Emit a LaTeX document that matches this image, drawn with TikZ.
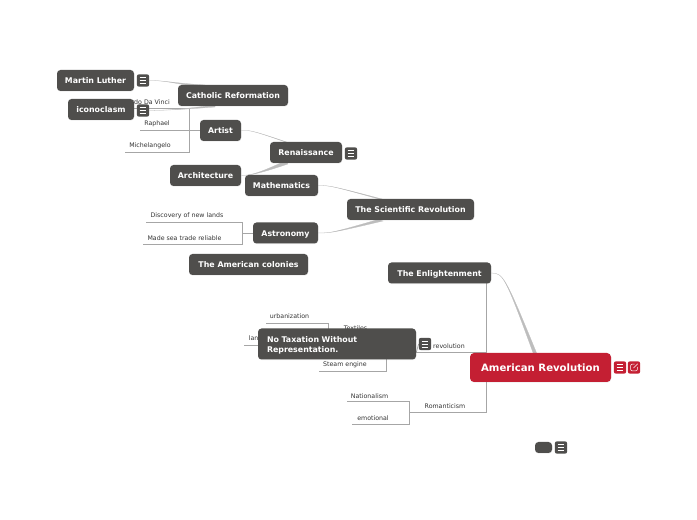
\documentclass[tikz,border=0pt]{standalone}
\usepackage{fontspec}
\setmainfont{DejaVu Sans}
\usetikzlibrary{backgrounds,calc,shadows}
\definecolor{nodegray}{HTML}{4F4E4C}
\definecolor{nodered}{HTML}{C41F33}
\definecolor{branchgray}{HTML}{BDBDBD}
\definecolor{leafline}{HTML}{A6A6A6}
\definecolor{leaftext}{HTML}{333333}
\tikzset{
  wh/.style 2 args={minimum width=#1*0.75pt,minimum height=#2*0.75pt},
  topic/.style={fill=nodegray,rounded corners=2.6pt,text=white,inner sep=0pt,font=\fontsize{5.9}{7.9}\selectfont\bfseries,align=center,
    drop shadow={opacity=0.15,shadow xshift=0.2pt,shadow yshift=-0.5pt}},
  oneline/.style={text height=5.2pt,text depth=0pt},
  leaf/.style={text=leaftext,inner sep=0pt,font=\fontsize{4.7}{6}\selectfont},
  leafrule/.style={draw=leafline,line width=0.55pt},
  branch/.style={fill=branchgray,draw=branchgray,line width=0.2pt},
  iconbox/.style={fill=#1,rounded corners=1.5pt,minimum size=9.2pt,inner sep=0pt,
    path picture={
      \draw[white,line width=0.4pt]
        ($(path picture bounding box.center)+(-2.6pt,2.1pt)$) -- +(5.2pt,0)
        ($(path picture bounding box.center)+(-2.6pt,0pt)$) -- +(5.2pt,0)
        ($(path picture bounding box.center)+(-2.6pt,-2.1pt)$) -- +(5.2pt,0);
    }},
  openbox/.style={fill=nodered,rounded corners=1.5pt,minimum size=9.2pt,inner sep=0pt,
    path picture={
      \draw[white,line width=0.4pt]
        ($(path picture bounding box.center)+(0.4pt,2.6pt)$) -- +(-3pt,0) -- +(-3pt,-5.2pt) -- +(2.2pt,-5.2pt) -- +(2.2pt,-2.2pt);
      \draw[white,line width=0.4pt]
        ($(path picture bounding box.center)+(-0.4pt,-0.4pt)$) -- +(3.2pt,3.2pt);
    }},
}
\newcommand{\taperbranch}[5]{%
  \fill[branch] (#1) .. controls (#2) and (#3) .. (#4) -- (#5) .. controls (#3) and (#2) .. (#1);}
\begin{document}
\begin{tikzpicture}[x=0.75pt,y=-0.75pt]
\useasboundingbox (0,0) rectangle (697,520);

% topics
\node[topic,oneline,wh={77}{21}] (luther) at (95.5,80.5) {Martin Luther};
\node[topic,oneline,wh={110}{21}] (catholic) at (233,95.5) {Catholic Reformation};
\node[topic,oneline,wh={66}{21}] (icono) at (101,109.5) {iconoclasm};
\node[topic,oneline,wh={41}{21}] (artist) at (220.5,130.5) {Artist};
\node[topic,oneline,wh={72}{21}] (renaissance) at (306,152.5) {Renaissance};
\node[topic,oneline,wh={71}{21}] (architecture) at (205.5,175.5) {Architecture};
\node[topic,oneline,wh={73}{21}] (mathematics) at (281.5,185.5) {Mathematics};
\node[topic,oneline,wh={127}{21}] (scientific) at (410.5,209.5) {The Scientific Revolution};
\node[topic,oneline,wh={65}{21}] (astronomy) at (285.5,233) {Astronomy};
\node[topic,oneline,wh={119}{21}] (colonies) at (248.5,264.5) {The American colonies};
\node[topic,oneline,wh={103}{21}] (enlight) at (439.5,273) {The Enlightenment};
\node[topic,wh={158}{31},align=left,text width=140*0.75pt] (taxation) at (337,344) {\rule{0pt}{6.8pt}No Taxation Without\\Representation.};
\node[topic,wh={141}{29},fill=nodered,rounded corners=3pt,font=\fontsize{7.6}{10}\selectfont\bfseries,text height=5.6pt,text depth=0pt] (american) at (540.5,367.5) {American Revolution};
\node[topic,wh={17}{11}] (blank) at (543.5,447.5) {};

% icons
\node[iconbox=nodegray] (iconA) at (143,80.5) {};
\node[iconbox=nodegray] (iconB) at (143,110.5) {};
\node[iconbox=nodegray] (iconC) at (351,153.5) {};
\node[iconbox=nodegray] (iconD) at (425,344) {};
\node[iconbox=nodered] (iconE) at (620,367.5) {};
\node[openbox] (iconF) at (634,367.5) {};
\node[iconbox=nodegray] (iconG) at (561,447.5) {};

\begin{pgfonlayer}{background}
% leaf labels
\node[leaf,anchor=east] (leo) at (170,102) {Leonardo Da Vinci};
\node[leaf] (raphael) at (157,124) {Raphael};
\node[leaf] (michel) at (150,146) {Michelangelo};
\node[leaf] (discovery) at (187,216) {Discovery of new lands};
\node[leaf] (seatrade) at (184.5,238) {Made sea trade reliable};
\node[leaf] (urban) at (289.5,316) {urbanization};
\node[leaf] (textiles) at (355.5,328) {Textiles};
\node[leaf,anchor=west] (lan) at (248.5,338) {lan};
\node[leaf] (steam) at (345,365) {Steam engine};
\node[leaf] (revolution) at (449,346) {revolution};
\node[leaf] (romanticism) at (445,406) {Romanticism};
\node[leaf] (nationalism) at (369.5,396) {Nationalism};
\node[leaf] (emotional) at (373,418) {emotional};

% free ends of the leaf rules
\coordinate (leoL) at (113,108);
\coordinate (raphL) at (140,130);
\coordinate (michL) at (125,152);
\coordinate (artB) at (189,130);
\coordinate (discL) at (146,222);
\coordinate (seaL) at (143,244);
\coordinate (astB) at (242,233);
\coordinate (urbL) at (266,323);
\coordinate (lanL) at (244,345);
\coordinate (steamL) at (319,371.5);
\coordinate (natL) at (347,401.5);
\coordinate (emoL) at (352,424);
\coordinate (romB) at (409,412.5);
\coordinate (entB) at (486.5,283);
\coordinate (revR) at (486.5,352.5);
\coordinate (romR) at (486.5,412.5);

% leaf rules
\draw[leafrule] (leoL) -- (leoL -| artB) -- (michL -| artB) -- (michL);
\draw[leafrule] (raphL) -- (artist.west |- raphL);
\draw[leafrule] (discL) -- (discL -| astB) -- (seaL -| astB) -- (seaL);
\draw[leafrule] (astB) -- (astronomy.west |- astB);
\draw[leafrule] (urbL) -- (328,323) -- (328,335);
\draw[leafrule] (lanL) -- (taxation.west |- lanL);
\draw[leafrule] (steamL) -- (386,371.5) -- (386,355);
\draw[leafrule] (natL) -- (natL -| romB) -- (emoL -| romB) -- (emoL);
\draw[leafrule] (romB) -- (romR);
\draw[leafrule,line width=0.9pt] (entB) -- (romR);
\draw[leafrule] (revR) -- (taxation.east |- revR) -- (iconD.west);

% tapered branches
\taperbranch{iconA.east}{165,80.5}{172,83}{205,85}{205,88}
\taperbranch{iconB.east}{170,110}{175,110}{215,105}{215,107}
\taperbranch{artist.east}{250,130}{254,131}{288,142.5}{291,144}
\taperbranch{architecture.east}{250,175}{255,175}{285,161}{288,164}
\taperbranch{mathematics.east}{330,185.5}{332,186}{382,199}{386,201}
\taperbranch{astronomy.east}{330,233}{332,233}{378,219.5}{383,221}
\taperbranch{enlight.east}{503,273}{505,276}{533.5,354}{537,354}
\end{pgfonlayer}
\end{tikzpicture}
\end{document}
